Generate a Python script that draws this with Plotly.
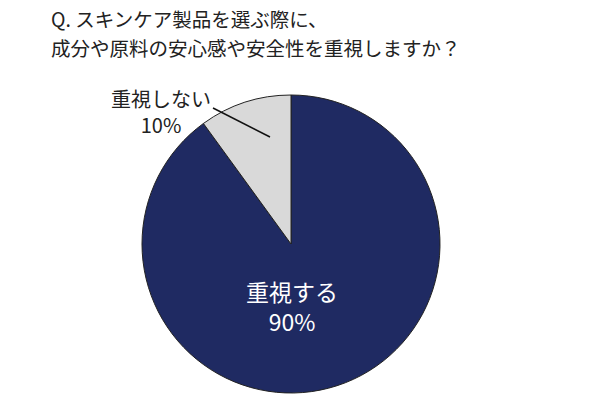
import plotly.graph_objects as go

title_lines = ["Q. スキンケア製品を選ぶ際に、", "成分や原料の安心感や安全性を重視しますか？"]
labels = ["重視する", "重視しない"]
values = [90, 10]
colors = ["#1f2a62", "#d9d9d9"]

W, H = 610, 400
OFF = 8  # page body margin offset


def px(x):
    return (x - OFF) / W


def py(y):
    return 1 - (y - OFF) / H


fig = go.Figure()
fig.add_trace(go.Pie(
    labels=labels, values=values, sort=False, direction="clockwise", rotation=0,
    marker=dict(colors=colors, line=dict(color="#222222", width=1)),
    textinfo="none", hoverinfo="label+percent", showlegend=False,
    domain=dict(x=[px(142), px(440)], y=[py(393), py(95)]),
))

font = "Noto Sans CJK JP, Noto Sans, sans-serif"
for i, line in enumerate(title_lines):
    fig.add_annotation(x=px(49), y=py(18.5 + 29.5 * i), xref="paper", yref="paper",
                       text=line, showarrow=False, xanchor="left", yanchor="middle",
                       font=dict(family=font, size=19.5, color="#222222"))

fig.add_annotation(x=px(292), y=py(306), xref="paper", yref="paper",
                   text=f"{labels[0]}<br>{values[0]}%", showarrow=False,
                   xanchor="center", yanchor="middle",
                   font=dict(family=font, size=23, color="white"))
fig.add_annotation(x=px(161), y=py(111), xref="paper", yref="paper",
                   text=f"{labels[1]}<br>{values[1]}%", showarrow=False,
                   xanchor="center", yanchor="middle",
                   font=dict(family=font, size=20, color="#222222"))
fig.add_shape(type="line", xref="paper", yref="paper",
              x0=px(213), y0=py(108), x1=px(270), y1=py(137),
              line=dict(color="#111111", width=1.5))

fig.update_layout(width=W, height=H, margin=dict(l=0, r=0, t=0, b=0),
                  paper_bgcolor="white", plot_bgcolor="white")
fig.write_html("out.html")
